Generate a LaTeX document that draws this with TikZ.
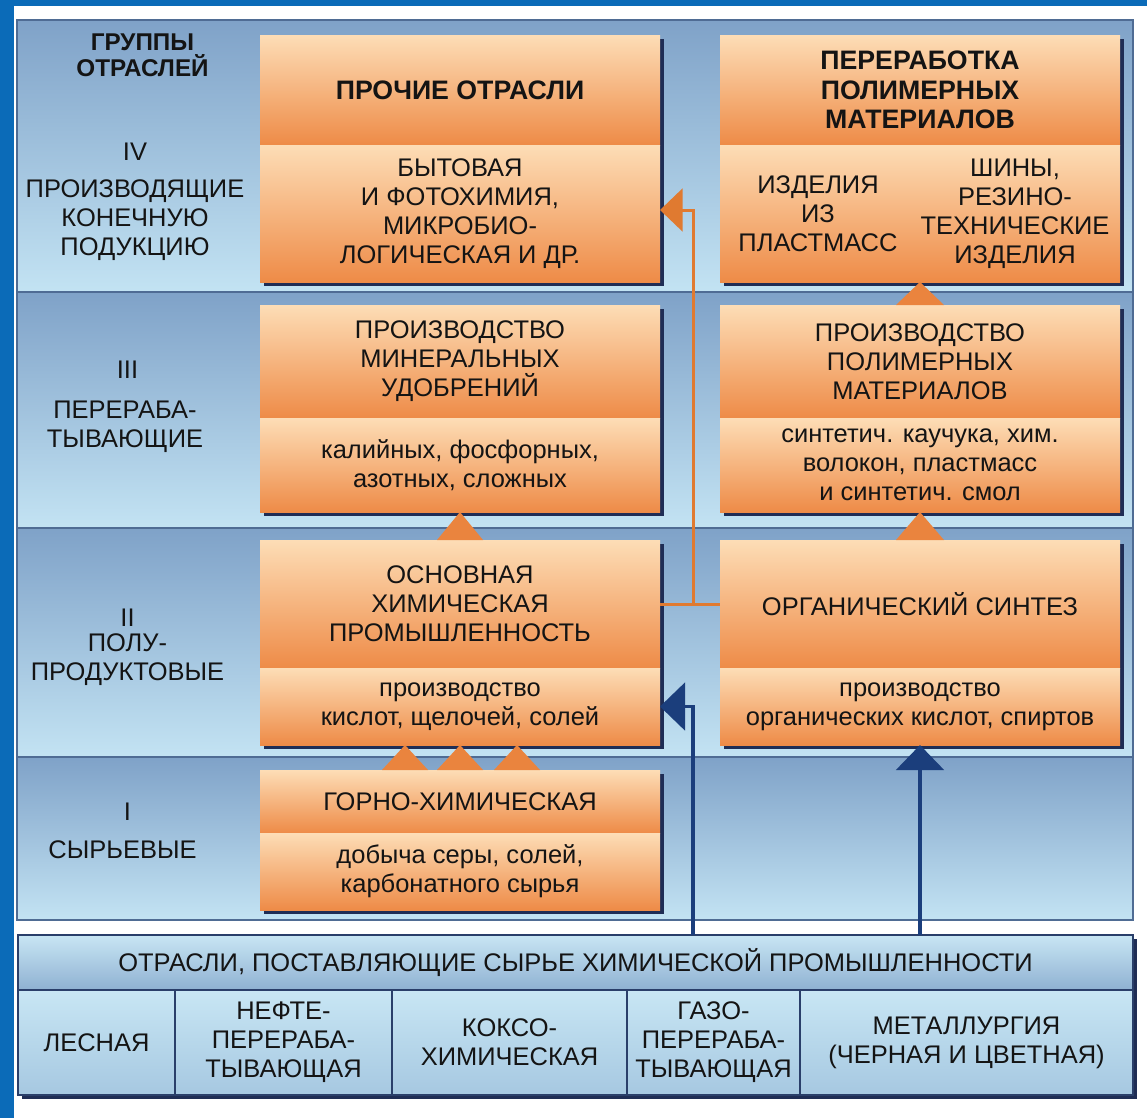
\documentclass[tikz,border=0pt]{standalone}
\usepackage{fontspec}
\setmainfont{Liberation Sans}
\usetikzlibrary{positioning,arrows.meta,shadows}

\definecolor{frameblue}{HTML}{0B6BB8}
\definecolor{rowtop}{HTML}{7FA2C8}
\definecolor{rowbot}{HTML}{C3E3F3}
\definecolor{rowline}{HTML}{4F6C94}
\definecolor{boxtop}{HTML}{FDDDB6}
\definecolor{boxbot}{HTML}{EE8B47}
\definecolor{boxshadow}{HTML}{1F2D55}
\definecolor{celltop}{HTML}{C8E6F4}
\definecolor{cellbot}{HTML}{A6C8E1}
\definecolor{headbot}{HTML}{8FB1D2}
\definecolor{cellline}{HTML}{2A3F6A}
\definecolor{linkorange}{HTML}{E07A30}
\definecolor{linknavy}{HTML}{1B3E7C}
\definecolor{tricolor}{HTML}{EA843E}
\definecolor{ink}{HTML}{141414}

\begin{document}
\begin{tikzpicture}[
    font=\fontsize{14.5}{16.5}\selectfont,
    text=ink,
    box/.style={
        rectangle,
        minimum width=8cm,
        inner sep=2pt,
        outer sep=0pt,
        align=center,
        top color=boxtop,
        bottom color=boxbot,
        drop shadow={shadow xshift=2.5pt, shadow yshift=-2.5pt, fill=boxshadow, opacity=1}
    },
    hdr/.style={font=\fontsize{15.2}{16.8}\selectfont\bfseries},
    grouplabel/.style={align=center},
    cell/.style={
        rectangle,
        minimum height=2.1cm,
        outer sep=0pt,
        align=center,
        draw=cellline,
        line width=0.8pt,
        top color=celltop,
        bottom color=cellbot,
        drop shadow={shadow xshift=2pt, shadow yshift=-2.5pt, fill=boxshadow, opacity=1}
    },
    tri/.style={fill=tricolor},
    orline/.style={draw=linkorange, line width=1.7pt},
    orarrow/.style={orline, -{Triangle[length=0.45cm, width=0.85cm]}},
    blarrow/.style={draw=linknavy, line width=2pt, -{Triangle[length=0.5cm, width=0.95cm]}}
]

\useasboundingbox (0,0) rectangle (22.94,-22.36);
\fill[white] (0,0) rectangle (22.94,-22.36);
\fill[frameblue] (0,0) rectangle (22.94,-0.12);
\fill[frameblue] (0,0) rectangle (0.28,-22.36);

% Rows of the groups
\shade[top color=rowtop, bottom color=rowbot] (0.34,-0.4) rectangle (22.66,-5.84);
\shade[top color=rowtop, bottom color=rowbot] (0.34,-5.84) rectangle (22.66,-10.56);
\shade[top color=rowtop, bottom color=rowbot] (0.34,-10.56) rectangle (22.66,-15.14);
\shade[top color=rowtop, bottom color=rowbot] (0.34,-15.14) rectangle (22.66,-18.4);
\draw[rowline, line width=0.6pt] (0.34,-5.84) -- (22.66,-5.84);
\draw[rowline, line width=0.6pt] (0.34,-10.56) -- (22.66,-10.56);
\draw[rowline, line width=0.6pt] (0.34,-15.14) -- (22.66,-15.14);
\draw[rowline, line width=0.8pt] (0.34,-0.4) rectangle (22.66,-18.4);

% Group labels
\node[grouplabel, font=\fontsize{13.8}{15}\selectfont\bfseries] (groups) at (2.85,-1.1) {ГРУППЫ\\ОТРАСЛЕЙ};
\node[grouplabel] (numIV) at (2.7,-3.04) {IV};
\node[grouplabel] (labIV) at (2.7,-4.4) {ПРОИЗВОДЯЩИЕ\\КОНЕЧНУЮ\\ПОДУКЦИЮ};
\node[grouplabel] (numIII) at (2.55,-7.4) {III};
\node[grouplabel] (labIII) at (2.5,-8.54) {ПЕРЕРАБА-\\ТЫВАЮЩИЕ};
\node[grouplabel] (numII) at (2.55,-12.36) {II};
\node[grouplabel] (labII) at (2.55,-13.2) {ПОЛУ-\\ПРОДУКТОВЫЕ};
\node[grouplabel] (numI) at (2.55,-16.24) {I};
\node[grouplabel] (labI) at (2.45,-17.0) {СЫРЬЕВЫЕ};

% Row IV
\node[box, hdr, minimum height=2.2cm] (prochieH) at (9.2,-1.8) {ПРОЧИЕ ОТРАСЛИ};
\node[box, minimum height=2.74cm, below=0cm of prochieH] (prochieB) {БЫТОВАЯ\\И ФОТОХИМИЯ,\\МИКРОБИО-\\ЛОГИЧЕСКАЯ И ДР.};
\node[box, hdr, minimum height=2.2cm] (pererabH) at (18.4,-1.8) {ПЕРЕРАБОТКА\\ПОЛИМЕРНЫХ\\МАТЕРИАЛОВ};
\node[box, minimum height=2.74cm, below=0cm of pererabH] (pererabB) {};
\node[align=center] (plast) at ([xshift=-2.04cm]pererabB.center) {ИЗДЕЛИЯ\\ИЗ\\ПЛАСТМАСС};
\node[align=center] (shiny) at ([xshift=1.9cm]pererabB.center) {ШИНЫ,\\РЕЗИНО-\\ТЕХНИЧЕСКИЕ\\ИЗДЕЛИЯ};

% Row III
\node[box, minimum height=2.26cm, below=0.46cm of prochieB] (mineralH) {ПРОИЗВОДСТВО\\МИНЕРАЛЬНЫХ\\УДОБРЕНИЙ};
\node[box, minimum height=1.88cm, below=0cm of mineralH] (mineralB) {калийных, фосфорных,\\азотных, сложных};
\node[box, minimum height=2.26cm, below=0.46cm of pererabB] (polyH) {ПРОИЗВОДСТВО\\ПОЛИМЕРНЫХ\\МАТЕРИАЛОВ};
\node[box, minimum height=1.88cm, below=0cm of polyH] (polyB) {синтетич. каучука, хим.\\волокон, пластмасс\\и синтетич. смол};

% Row II
\node[box, minimum height=2.56cm, below=0.56cm of mineralB] (osnovH) {ОСНОВНАЯ\\ХИМИЧЕСКАЯ\\ПРОМЫШЛЕННОСТЬ};
\node[box, minimum height=1.54cm, below=0cm of osnovH] (osnovB) {производство\\кислот, щелочей, солей};
\node[box, minimum height=2.56cm, below=0.56cm of polyB] (orgH) {ОРГАНИЧЕСКИЙ СИНТЕЗ};
\node[box, minimum height=1.54cm, below=0cm of orgH] (orgB) {производство\\органических кислот, спиртов};

% Row I
\node[box, minimum height=1.26cm, below=0.5cm of osnovB] (gornoH) {ГОРНО-ХИМИЧЕСКАЯ};
\node[box, minimum height=1.54cm, below=0cm of gornoH] (gornoB) {добыча серы, солей,\\карбонатного сырья};

% Supplying branches
\node[cell, minimum width=22.3cm, minimum height=1.1cm, top color=celltop, bottom color=headbot] (supply) at (11.51,-19.25) {ОТРАСЛИ, ПОСТАВЛЯЮЩИЕ СЫРЬЕ ХИМИЧЕСКОЙ ПРОМЫШЛЕННОСТИ};
\node[cell, minimum width=3.14cm, anchor=north west] (lesn) at (supply.south west) {ЛЕСНАЯ};
\node[cell, minimum width=4.34cm, right=0cm of lesn] (neft) {НЕФТЕ-\\ПЕРЕРАБА-\\ТЫВАЮЩАЯ};
\node[cell, minimum width=4.7cm, right=0cm of neft] (koks) {КОКСО-\\ХИМИЧЕСКАЯ};
\node[cell, minimum width=3.46cm, right=0cm of koks] (gaz) {ГАЗО-\\ПЕРЕРАБА-\\ТЫВАЮЩАЯ};
\node[cell, minimum width=6.66cm, right=0cm of gaz] (metal) {МЕТАЛЛУРГИЯ\\(ЧЕРНАЯ И ЦВЕТНАЯ)};

% Triangles between rows
\fill[tri] ([xshift=-0.48cm]polyH.north) -- ([xshift=0.48cm]polyH.north) -- (pererabB.south) -- cycle;
\fill[tri] ([xshift=-0.48cm]orgH.north) -- ([xshift=0.48cm]orgH.north) -- (polyB.south) -- cycle;
\fill[tri] ([xshift=-0.46cm]osnovH.north) -- ([xshift=0.46cm]osnovH.north) -- (mineralB.south) -- cycle;
\foreach \dx in {-1.1,0,1.14}
    \fill[tri] ([xshift=\dx cm]gornoH.north) ++(-0.46,0) -- ++(0.92,0) -- ([xshift=\dx cm]osnovB.south) -- cycle;

% Links
\coordinate (jn) at ([xshift=0.66cm]osnovH.east);
\draw[orline] (osnovH.east) -- (orgH.west);
\draw[orarrow] (jn) |- ([yshift=0.07cm]prochieB.east);
\draw[blarrow] (supply.north -| jn) |- (osnovB.east);
\draw[blarrow] (supply.north -| orgB.south) -- (orgB.south);

\end{tikzpicture}
\end{document}
